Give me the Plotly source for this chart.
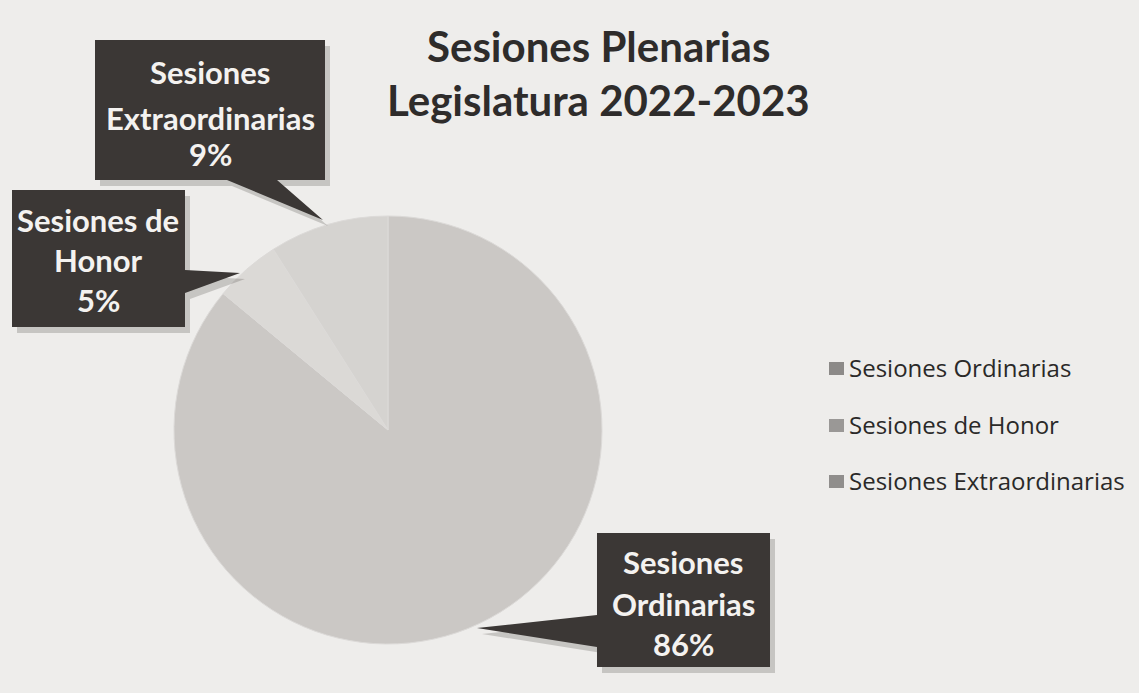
import plotly.graph_objects as go

W, H = 1139, 693

# ---- data ----
labels = ["Sesiones Ordinarias", "Sesiones de Honor", "Sesiones Extraordinarias"]
values = [86, 5, 9]
slice_colors = ["#cbc8c5", "#dbd9d6", "#d5d3d0"]
legend_marker_colors = ["#8c8a88", "#9a9896", "#908e8c"]
title_lines = ["Sesiones Plenarias", "Legislatura 2022-2023"]
callout_lines = {
    "Sesiones Ordinarias": ["Sesiones", "Ordinarias", "86%"],
    "Sesiones de Honor": ["Sesiones de", "Honor", "5%"],
    "Sesiones Extraordinarias": ["Sesiones", "Extraordinarias", "9%"],
}


def px(x):
    return x / W


def py(y):
    return 1 - y / H


def path(points):
    return "M " + " L ".join(f"{px(x):.5f},{py(y):.5f}" for x, y in points) + " Z"


fig = go.Figure()

# pie
cx, cy, r = 388, 430, 214
fig.add_trace(go.Pie(
    labels=labels, values=values, sort=False, direction="clockwise", rotation=0,
    marker=dict(colors=slice_colors, line=dict(color="#dcdad8", width=1)),
    textinfo="none", hoverinfo="label+percent", showlegend=False,
    domain=dict(x=[px(cx - r), px(cx + r)], y=[py(cy + r), py(cy - r)]),
))

shapes = []
annotations = []

# title
for t, yy in zip(title_lines, [46, 100]):
    annotations.append(dict(text=f"<b>{t}</b>", x=px(598), y=py(yy), xref="paper", yref="paper",
                            xanchor="center", yanchor="middle", showarrow=False,
                            font=dict(family="Lato", size=42, color="#2e2c2b")))

# callouts (box + pointer)
callouts = {
    "Sesiones Extraordinarias": dict(
        poly=[(95, 40), (325, 40), (325, 180), (277, 180), (323, 220), (227, 180), (95, 180)],
        cx=210, ys=[72, 118, 154]),
    "Sesiones de Honor": dict(
        poly=[(12, 190), (185, 190), (185, 270), (240, 273), (185, 293), (185, 327), (12, 327)],
        cx=98, ys=[220, 260, 300]),
    "Sesiones Ordinarias": dict(
        poly=[(597, 533), (770, 533), (770, 667), (597, 667), (597, 647), (477, 628), (597, 615)],
        cx=683, ys=[562, 604, 644]),
}
for name, c in callouts.items():
    shadow = [(x + 5, y + 6) for x, y in c["poly"]]
    shapes.append(dict(type="path", xref="paper", yref="paper", path=path(shadow),
                       fillcolor="rgba(60,55,50,0.22)", line=dict(width=0), layer="above"))
    shapes.append(dict(type="path", xref="paper", yref="paper", path=path(c["poly"]),
                       fillcolor="#3b3735", line=dict(width=0), layer="above"))
    for line, yy in zip(callout_lines[name], c["ys"]):
        annotations.append(dict(text=f"<b>{line}</b>", x=px(c["cx"]), y=py(yy), xref="paper", yref="paper",
                                xanchor="center", yanchor="middle", showarrow=False,
                                font=dict(family="Lato", size=31, color="#f4f2f0")))

# legend (manual)
leg_x, leg_ys = 837, [367, 424, 480]
for lab, col, yy in zip(labels, legend_marker_colors, leg_ys):
    shapes.append(dict(type="rect", xref="paper", yref="paper",
                       x0=px(leg_x - 8), x1=px(leg_x + 7), y0=py(yy + 8), y1=py(yy - 5),
                       fillcolor=col, line=dict(width=0)))
    annotations.append(dict(text=lab, x=px(leg_x + 10), y=py(yy), xref="paper", yref="paper",
                            xanchor="left", yanchor="middle", showarrow=False,
                            font=dict(family="Open Sans", size=24, color="#2a2928")))

fig.update_layout(
    width=W, height=H,
    margin=dict(l=0, r=0, t=0, b=0),
    paper_bgcolor="#eeedeb", plot_bgcolor="#eeedeb",
    shapes=shapes, annotations=annotations,
    showlegend=False,
)

fig.write_html("out.html", config={"displayModeBar": False},
               post_script="document.body.style.margin='0';")
